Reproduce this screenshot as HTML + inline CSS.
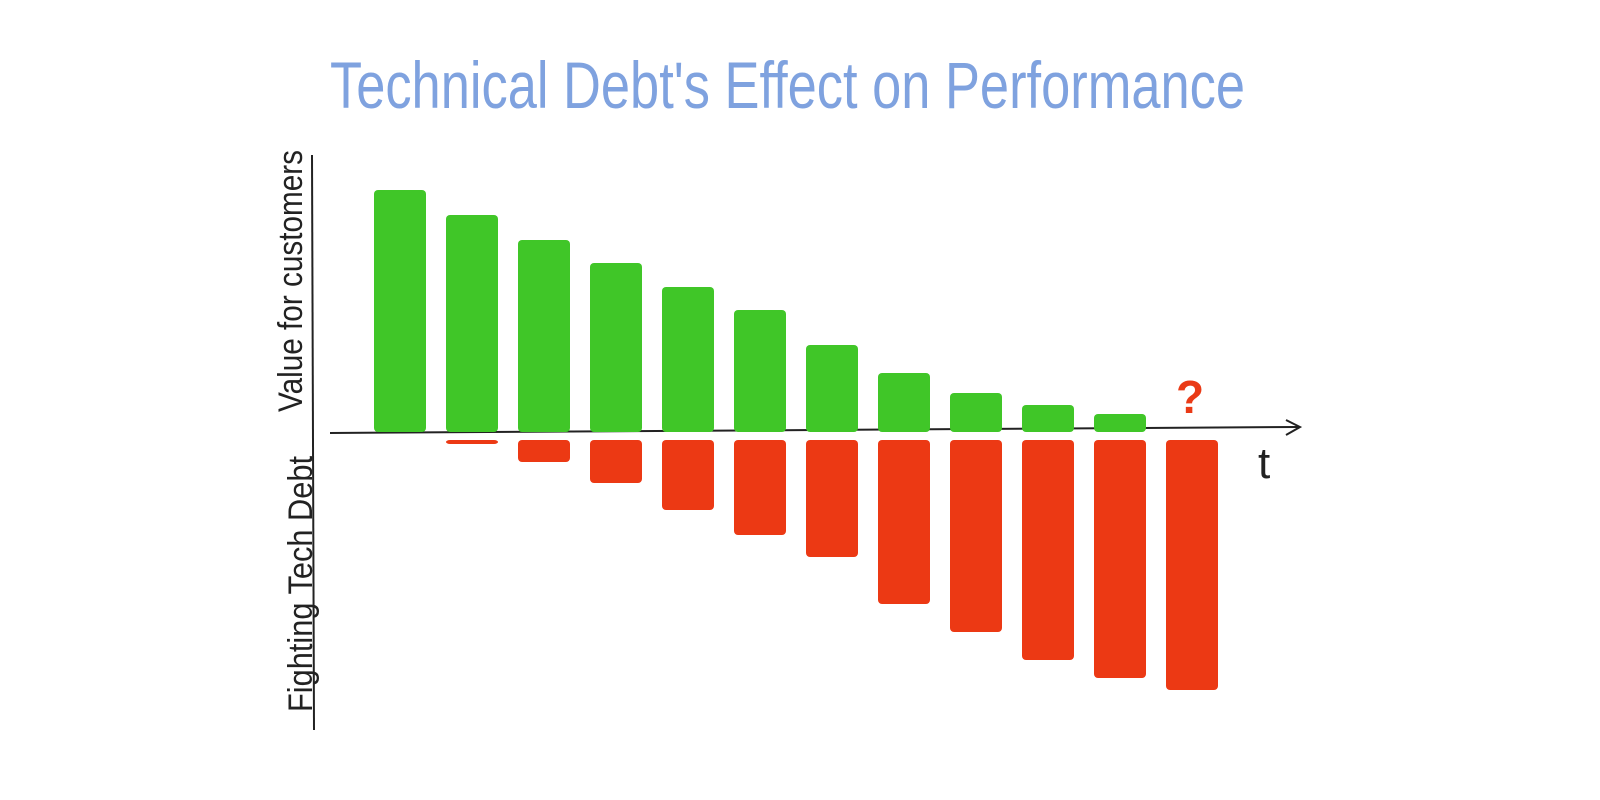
<!DOCTYPE html>
<html><head><meta charset="utf-8"><style>
html,body{margin:0;padding:0;background:#fff;}
svg{display:block;}
</style></head><body>
<svg id="chart" width="1600" height="800" viewBox="0 0 1600 800">
<text x="330" y="108" font-family="'Liberation Sans', sans-serif" font-size="66" fill="#7fa2df" textLength="915" lengthAdjust="spacingAndGlyphs">Technical Debt's Effect on Performance</text>
<line x1="312" y1="155" x2="314" y2="730" stroke="#222" stroke-width="2"/>
<line x1="330" y1="433" x2="1298" y2="427" stroke="#222" stroke-width="2"/>
<path d="M1286 420 L1300 427 L1286 435" fill="none" stroke="#222" stroke-width="2"/>
<text x="1258" y="478" font-family="'Liberation Sans', sans-serif" font-size="44" fill="#222">t</text>
<text transform="translate(302,412) rotate(-90)" font-family="'Liberation Sans', sans-serif" font-size="34" fill="#222" textLength="262" lengthAdjust="spacingAndGlyphs">Value for customers</text>
<text transform="translate(312,712) rotate(-90)" font-family="'Liberation Sans', sans-serif" font-size="34" fill="#222" textLength="256" lengthAdjust="spacingAndGlyphs">Fighting Tech Debt</text>
<text x="1176" y="413" font-family="'Liberation Sans', sans-serif" font-weight="bold" font-size="46" fill="#ea3a16">?</text>
<g id="bars"></g>
</svg>
<script>
const categories = [1,2,3,4,5,6,7,8,9,10,11,12];
const valueForCustomers = [242,217,192,169,145,122,87,59,39,27,18,0];
const fightingTechDebt = [0,4,22,43,70,95,117,164,192,220,238,250];

const x0 = 400, step = 72, barW = 52;
function xScale(i){ return x0 + i*step; }
function yUp(v){ return 432 - v; }
function yDown(v){ return 440 + v; }

const g = document.getElementById('bars');
const NS = 'http://www.w3.org/2000/svg';
categories.forEach((c,i)=>{
  const cx = xScale(i);
  if (valueForCustomers[i] > 0) {
    const r = document.createElementNS(NS,'rect');
    r.setAttribute('x', cx - barW/2);
    r.setAttribute('y', yUp(valueForCustomers[i]));
    r.setAttribute('width', barW);
    r.setAttribute('height', valueForCustomers[i]);
    r.setAttribute('rx', 4);
    r.setAttribute('fill', '#40c628');
    
    
    g.appendChild(r);
  }
  if (fightingTechDebt[i] > 0) {
    const r = document.createElementNS(NS,'rect');
    r.setAttribute('x', cx - barW/2);
    r.setAttribute('y', 440);
    r.setAttribute('width', barW);
    r.setAttribute('height', yDown(fightingTechDebt[i]) - 440);
    r.setAttribute('rx', 4);
    r.setAttribute('fill', '#ec3914');
    
    
    g.appendChild(r);
  }
});
</script>
</body></html>
